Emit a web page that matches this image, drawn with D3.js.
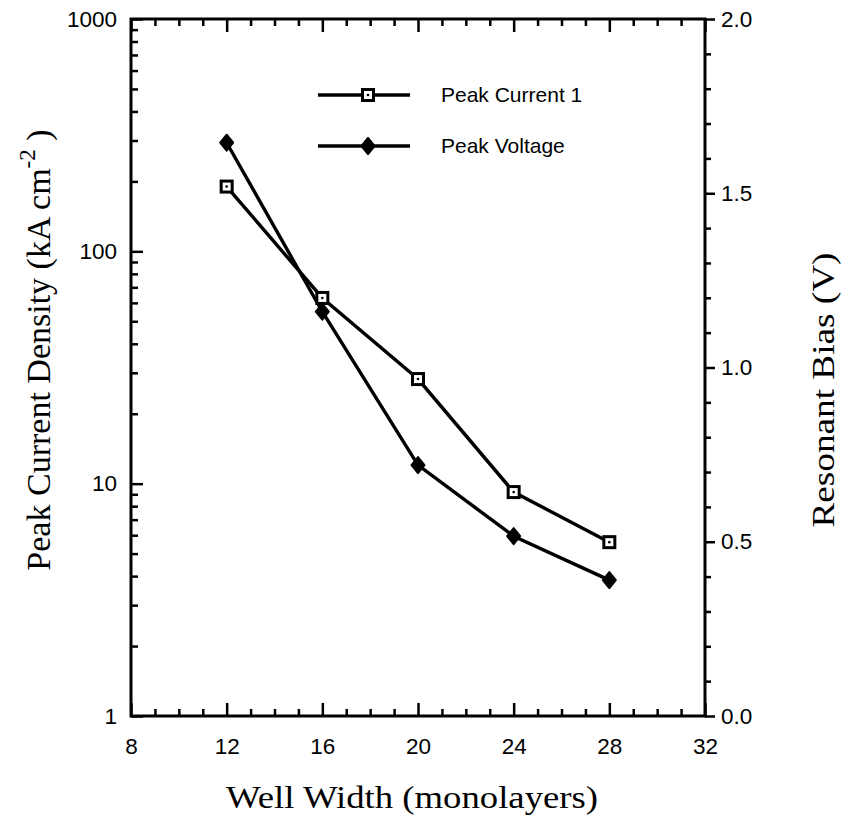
<!DOCTYPE html>
<html>
<head>
<meta charset="utf-8">
<script src="https://cdn.jsdelivr.net/npm/d3@7"></script>
<style>
  body { margin: 0; background: #fff; }
  svg { display: block; }
</style>
</head>
<body>
<svg id="chart" width="857" height="828"></svg>
<script>
// ---- data ----
const wellWidth = [12, 16, 20, 24, 28];
const peakCurrent1 = [190, 63, 28.2, 9.2, 5.6];         // kA cm^-2 (left, log)
const peakVoltage = [1.645, 1.16, 0.72, 0.516, 0.39];   // V (right)
const xTicks = [8, 12, 16, 20, 24, 28, 32];
const yLeftTicks = [1, 10, 100, 1000];
const yRightTicks = [0.0, 0.5, 1.0, 1.5, 2.0];
const seriesNames = ["Peak Current 1", "Peak Voltage"];

// ---- layout ----
const L = 131, R = 705, T = 19, B = 716;
const svg = d3.select("#chart");
const sans = "'Liberation Sans', Arial, sans-serif";
const serif = "'Liberation Serif', 'Times New Roman', serif";

const x = d3.scaleLinear().domain([8, 32]).range([L, R]);
const yL = d3.scaleLog().domain([1, 1000]).range([B, T]);
const yR = d3.scaleLinear().domain([0, 2]).range([B, T]);

const axisW = 3;
const tickFont = 22.5;

// minor tick values
const xMinor = d3.range(8, 33, 1).filter(v => !xTicks.includes(v));
const logMinor = [];
[1, 10, 100].forEach(d => { for (let k = 2; k <= 9; k++) logMinor.push(d * k); });
const rMinor = d3.range(0, 21).map(i => i / 10).filter(v => Math.round(v * 10) % 5 !== 0);

function styleAxis(g) {
  g.select(".domain").remove();
  g.selectAll(".tick line").attr("stroke", "#000").attr("stroke-width", 2.5);
  g.selectAll(".tick text").attr("font-family", sans).attr("font-size", tickFont).attr("fill", "#000");
}

// bottom axis (ticks inward)
svg.append("g").attr("transform", `translate(0,${B})`)
  .call(d3.axisBottom(x).tickValues(xTicks).tickSizeInner(-13).tickSizeOuter(0).tickPadding(22).tickFormat(d3.format("d")))
  .call(styleAxis);
svg.append("g").attr("transform", `translate(0,${B})`)
  .call(d3.axisBottom(x).tickValues(xMinor).tickSizeInner(-7).tickSizeOuter(0).tickFormat(""))
  .call(styleAxis);
// top axis (ticks inward)
svg.append("g").attr("transform", `translate(0,${T})`)
  .call(d3.axisTop(x).tickValues(xTicks).tickSizeInner(-13).tickSizeOuter(0).tickFormat(""))
  .call(styleAxis);
svg.append("g").attr("transform", `translate(0,${T})`)
  .call(d3.axisTop(x).tickValues(xMinor).tickSizeInner(-7).tickSizeOuter(0).tickFormat(""))
  .call(styleAxis);

// left axis (ticks inward)
svg.append("g").attr("transform", `translate(${L},0)`)
  .call(d3.axisLeft(yL).tickValues(yLeftTicks).tickSizeInner(-12).tickSizeOuter(0).tickPadding(14).tickFormat(d3.format("d")))
  .call(styleAxis);
svg.append("g").attr("transform", `translate(${L},0)`)
  .call(d3.axisLeft(yL).tickValues(logMinor).tickSizeInner(-7).tickSizeOuter(0).tickFormat(""))
  .call(styleAxis);

// right axis (ticks outward)
svg.append("g").attr("transform", `translate(${R},0)`)
  .call(d3.axisRight(yR).tickValues(yRightTicks).tickSizeInner(10).tickSizeOuter(0).tickPadding(6).tickFormat(d3.format(".1f")))
  .call(styleAxis);
svg.append("g").attr("transform", `translate(${R},0)`)
  .call(d3.axisRight(yR).tickValues(rMinor).tickSizeInner(6).tickSizeOuter(0).tickFormat(""))
  .call(styleAxis);

// frame
svg.append("rect").attr("x", L).attr("y", T).attr("width", R - L).attr("height", B - T)
  .attr("fill", "none").attr("stroke", "#000").attr("stroke-width", axisW);

// ---- series ----
const lineW = 3.4;
const pc = wellWidth.map((w, i) => [x(w), yL(peakCurrent1[i])]);
const pv = wellWidth.map((w, i) => [x(w), yR(peakVoltage[i])]);
const lineGen = d3.line();

svg.append("path").attr("d", lineGen(pv)).attr("fill", "none").attr("stroke", "#000").attr("stroke-width", lineW);
svg.append("path").attr("d", lineGen(pc)).attr("fill", "none").attr("stroke", "#000").attr("stroke-width", lineW);

function square(g, cx, cy) {
  g.append("rect").attr("x", cx - 5.5).attr("y", cy - 5.5).attr("width", 11).attr("height", 11)
    .attr("fill", "#fff").attr("stroke", "#000").attr("stroke-width", 3);
  g.append("circle").attr("cx", cx).attr("cy", cy).attr("r", 1.3).attr("fill", "#000");
}
function diamond(g, cx, cy) {
  g.append("path").attr("d", `M${cx},${cy - 8}L${cx + 6.5},${cy}L${cx},${cy + 8}L${cx - 6.5},${cy}Z`)
    .attr("fill", "#000").attr("stroke", "#000").attr("stroke-width", 2).attr("stroke-linejoin", "round");
}
pv.forEach(p => diamond(svg, p[0], p[1]));
pc.forEach(p => square(svg, p[0], p[1]));

// ---- legend ----
const legY = [95, 146];
const lx1 = 318, lx2 = 410, lmx = 368;
legY.forEach((ly, i) => {
  svg.append("line").attr("x1", lx1).attr("x2", lx2).attr("y1", ly).attr("y2", ly)
    .attr("stroke", "#000").attr("stroke-width", lineW);
  if (i === 0) square(svg, lmx, ly); else diamond(svg, lmx, ly);
  svg.append("text").attr("x", 441).attr("y", ly).attr("dy", "0.35em")
    .attr("font-family", sans).attr("font-size", 21).text(seriesNames[i]);
});

// ---- titles ----
const titleFont = 32;
svg.append("text").attr("x", 412).attr("y", 808).attr("text-anchor", "middle")
  .attr("font-family", serif).attr("font-size", titleFont)
  .attr("textLength", 372).attr("lengthAdjust", "spacingAndGlyphs")
  .text("Well Width (monolayers)");

const yt = svg.append("text").attr("transform", "translate(50,350) rotate(-90)")
  .attr("text-anchor", "middle").attr("font-family", serif).attr("font-size", 34);
yt.append("tspan").text("Peak Current Density (kA cm");
yt.append("tspan").attr("dy", -15).attr("font-size", 23).text("-2");
yt.append("tspan").attr("dy", 15).text(" )");

svg.append("text").attr("transform", "translate(834,390) rotate(-90)")
  .attr("text-anchor", "middle").attr("font-family", serif).attr("font-size", titleFont)
  .attr("textLength", 275).attr("lengthAdjust", "spacingAndGlyphs")
  .text("Resonant Bias (V)");
</script>
</body>
</html>
